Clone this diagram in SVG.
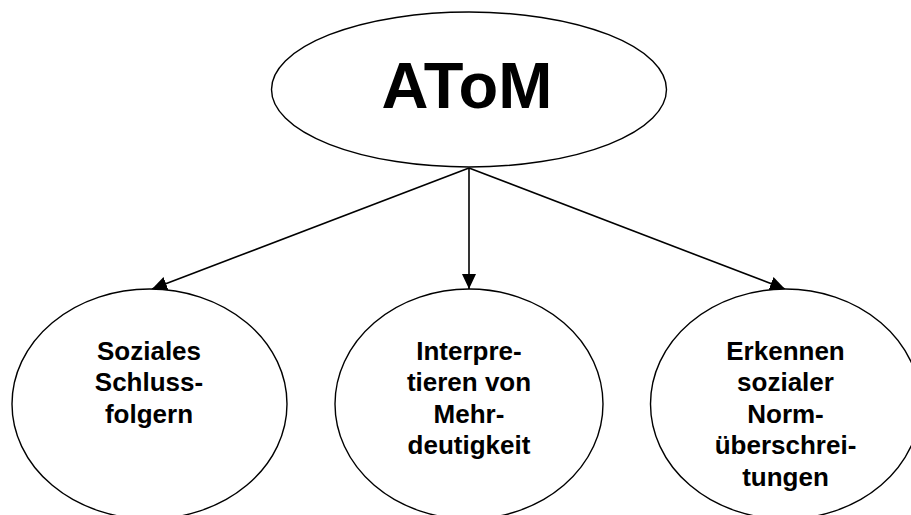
<svg xmlns="http://www.w3.org/2000/svg" width="911" height="515" viewBox="0 0 911 515">
<style>
.node{fill:#fff;stroke:#000;stroke-width:1.4}
.lbl{font-family:"Liberation Sans",Arial,sans-serif;font-weight:bold;font-size:26px;text-anchor:middle;fill:#000}
.title{font-family:"Liberation Sans",Arial,sans-serif;font-weight:bold;font-size:65px;text-anchor:middle;fill:#000}
.conn{stroke:#000;stroke-width:1.6;fill:none;marker-end:url(#arr)}
</style>
<defs>
<marker id="arr" markerUnits="userSpaceOnUse" markerWidth="16" markerHeight="14" refX="15" refY="7" orient="auto">
<path d="M0,0 L15,7 L0,14 Z" fill="#000"/>
</marker>
</defs>
<rect width="911" height="515" fill="#fff"/>
<g id="atom">
<ellipse class="node" cx="469" cy="89.5" rx="197.5" ry="77.5"/>
<text class="title" x="467" y="108">AToM</text>
</g>
<g id="connectors">
<line class="conn" x1="469" y1="168" x2="152" y2="289"/>
<line class="conn" x1="469" y1="168" x2="469" y2="289"/>
<line class="conn" x1="469" y1="168" x2="785" y2="289"/>
</g>
<g id="soziales">
<ellipse class="node" cx="149.5" cy="404" rx="137.5" ry="115"/>
<text class="lbl" x="149" y="359.5">Soziales</text>
<text class="lbl" x="149" y="391">Schluss-</text>
<text class="lbl" x="149" y="422.5">folgern</text>
</g>
<g id="interpretieren">
<ellipse class="node" cx="469" cy="404" rx="134" ry="115"/>
<text class="lbl" x="469" y="359.5">Interpre-</text>
<text class="lbl" x="469" y="391">tieren von</text>
<text class="lbl" x="469" y="422.5">Mehr-</text>
<text class="lbl" x="469" y="454">deutigkeit</text>
</g>
<g id="erkennen">
<ellipse class="node" cx="785.5" cy="404" rx="135" ry="115"/>
<text class="lbl" x="785.5" y="359.5">Erkennen</text>
<text class="lbl" x="785.5" y="391">sozialer</text>
<text class="lbl" x="785.5" y="422.5">Norm-</text>
<text class="lbl" x="785.5" y="454">überschrei-</text>
<text class="lbl" x="785.5" y="485.5">tungen</text>
</g>
</svg>
